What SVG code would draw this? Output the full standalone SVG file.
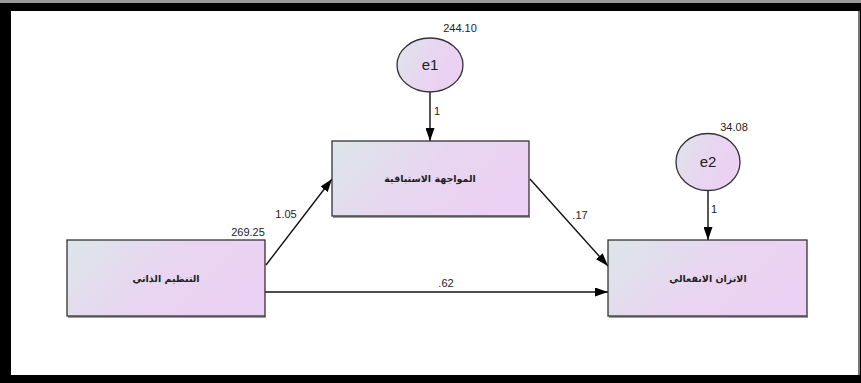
<svg xmlns="http://www.w3.org/2000/svg" width="861" height="383" viewBox="0 0 861 383">
<style>
.box{stroke:#333;stroke-width:1.3;fill:url(#g)}
.shadow{fill:#9a9a9a}
.lbl{font-family:"DejaVu Sans",sans-serif;font-size:9.5px;fill:#222;text-anchor:middle;font-weight:bold}
.num{font-family:"Liberation Sans",Arial,sans-serif;font-size:11px;fill:#222;text-anchor:middle}
.var{font-family:"Liberation Sans",Arial,sans-serif;font-size:15px;fill:#222;text-anchor:middle}
.edge{stroke:#111;stroke-width:1.4;fill:none;marker-end:url(#ah)}
</style>
<defs>
<linearGradient id="g" x1="0" y1="0" x2="1" y2="0.35">
<stop offset="0" stop-color="#dce6ea"/>
<stop offset="0.55" stop-color="#e8d6f0"/>
<stop offset="1" stop-color="#ebd1f3"/>
</linearGradient>
<marker id="ah" viewBox="0 0 13 9" refX="13" refY="4.5" markerWidth="13" markerHeight="9" markerUnits="userSpaceOnUse" orient="auto">
<path d="M0,0 L13,4.5 L0,9 Z" fill="#000"/>
</marker>
</defs>
<rect x="0" y="0" width="861" height="383" fill="#000"/>
<rect x="0" y="0" width="861" height="3" fill="#9a9a9a"/>
<rect x="11" y="11" width="847" height="364" fill="#fff"/>
<rect x="858" y="11" width="2" height="364" fill="#777"/>

<g id="connectors">
<line class="edge" x1="430" y1="92" x2="430" y2="141"/>
<line class="edge" x1="708" y1="191" x2="708" y2="240"/>
<line class="edge" x1="266" y1="265" x2="332" y2="179"/>
<line class="edge" x1="530" y1="179" x2="608" y2="266"/>
<line class="edge" x1="265" y1="292" x2="608" y2="292"/>
<text class="num" x="437" y="115">1</text>
<text class="num" x="714" y="213">1</text>
<text class="num" x="286" y="218">1.05</text>
<text class="num" x="580" y="219">.17</text>
<text class="num" x="446" y="287">.62</text>
</g>

<g id="e1">
<ellipse cx="430" cy="65" rx="33" ry="27" class="box"/>
<text class="var" x="430" y="70">e1</text>
<text class="num" x="460" y="32">244.10</text>
</g>
<g id="e2">
<ellipse cx="708" cy="162" rx="32" ry="28.5" class="box"/>
<text class="var" x="708" y="167">e2</text>
<text class="num" x="734" y="131">34.08</text>
</g>
<g id="mediator">
<rect class="shadow" x="333" y="216" width="197" height="2"/>
<rect class="box" x="332" y="141" width="197" height="75"/>
<text class="lbl" x="430" y="182">المواجهة الاستباقية</text>
</g>
<g id="predictor">
<rect class="shadow" x="68" y="316" width="198" height="2"/>
<rect class="box" x="67" y="240" width="198" height="76"/>
<text class="lbl" x="166" y="282">التنظيم الذاتي</text>
<text class="num" x="248" y="236">269.25</text>
</g>
<g id="outcome">
<rect class="shadow" x="609" y="316" width="199" height="2"/>
<rect class="box" x="608" y="240" width="199" height="76"/>
<text class="lbl" x="708" y="282">الاتزان الانفعالي</text>
</g>
</svg>
